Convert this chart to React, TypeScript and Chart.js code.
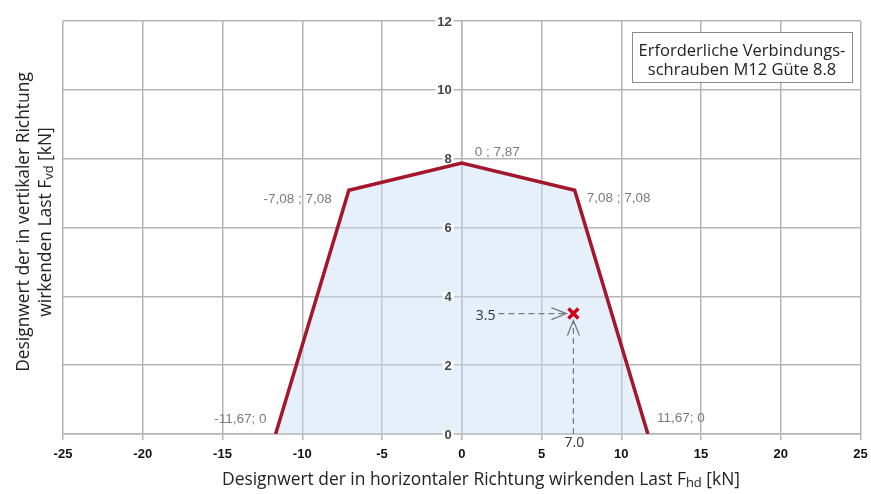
import React, { useEffect, useRef } from "react";
import { Chart, registerables } from "chart.js";

Chart.register(...registerables);

// ---- data ----
const limitX = [-11.67, -7.08, 0, 7.08, 11.67];
const limitY = [0, 7.08, 7.87, 7.08, 0];
const limitLabels = ["-11,67; 0", "-7,08 ; 7,08", "0 ; 7,87", "7,08 ; 7,08", "11,67; 0"];
const checkX = 7.0;
const checkY = 3.5;
const checkXLabel = "7.0";
const checkYLabel = "3.5";
const guideStartX = 2.3;
const xMin = -25;
const xMax = 25;
const xStep = 5;
const yMin = 0;
const yMax = 12;
const yStep = 2;
const boxLines = ["Erforderliche Verbindungs-", "schrauben M12 Güte 8.8"];
const xTitleParts: [string, boolean][] = [
  ["Designwert der in horizontaler Richtung wirkenden Last F", false],
  ["hd", true],
  [" [kN]", false],
];
const yTitleLine1: [string, boolean][] = [["Designwert der in vertikaler Richtung", false]];
const yTitleLine2: [string, boolean][] = [
  ["wirkenden Last F", false],
  ["vd", true],
  [" [kN]", false],
];

// ---- styles ----
const labelStyle: [number, number, CanvasTextAlign][] = [
  [-9, -15, "right"],
  [-17, 9, "right"],
  [13, -11, "left"],
  [12, 8, "left"],
  [9, -16, "left"],
];
const GRID = "#b5b5b5";
const TITLE_FONT = "'Open Sans', 'DejaVu Sans', sans-serif";
const TICK_FONT = "'Liberation Sans', Arial, sans-serif";

function drawParts(ctx: CanvasRenderingContext2D, parts: [string, boolean][], cx: number, cy: number, size: number) {
  const subSize = Math.round(size * 0.75);
  let total = 0;
  const widths = parts.map(([t, sub]) => {
    ctx.font = `${sub ? subSize : size}px ${TITLE_FONT}`;
    const w = ctx.measureText(t).width;
    total += w;
    return w;
  });
  let x = cx - total / 2;
  ctx.textAlign = "left";
  ctx.textBaseline = "middle";
  parts.forEach(([t, sub], i) => {
    ctx.font = `${sub ? subSize : size}px ${TITLE_FONT}`;
    ctx.fillText(t, x, sub ? cy + 3 : cy);
    x += widths[i];
  });
}

const overlayPlugin = {
  id: "overlay",
  afterDatasetsDraw(chart: any) {
    const ctx: CanvasRenderingContext2D = chart.ctx;
    const xs = chart.scales.x;
    const ys = chart.scales.y;
    ctx.save();

    // y tick labels beside the central axis, with white halo
    const ax = xs.getPixelForValue(0);
    ctx.font = `bold 13px ${TICK_FONT}`;
    ctx.textAlign = "right";
    ctx.textBaseline = "middle";
    ys.ticks.forEach((t: any) => {
      const py = ys.getPixelForValue(t.value);
      const label = String(t.value);
      const w = ctx.measureText(label).width;
      ctx.fillStyle = "rgba(255,255,255,0.9)";
      ctx.fillRect(ax - 10 - w - 2, py - 4, w + 4, 8);
      ctx.fillStyle = "#444";
      ctx.fillText(label, ax - 10, py + 1);
    });

    // point labels
    ctx.font = `13.5px ${TICK_FONT}`;
    ctx.fillStyle = "#7a7a7a";
    ctx.textBaseline = "middle";
    limitX.forEach((vx, i) => {
      const px = xs.getPixelForValue(vx);
      const py = ys.getPixelForValue(limitY[i]);
      const [dx, dy, al] = labelStyle[i];
      ctx.textAlign = al;
      ctx.fillText(limitLabels[i], px + dx, py + dy);
    });

    // guide lines
    const mx = xs.getPixelForValue(checkX);
    const my = ys.getPixelForValue(checkY);
    const sx = xs.getPixelForValue(guideStartX);
    const by = ys.getPixelForValue(0);
    ctx.strokeStyle = "#7a7a7a";
    ctx.lineWidth = 1.2;
    ctx.setLineDash([6, 4]);
    ctx.beginPath();
    ctx.moveTo(sx, my);
    ctx.lineTo(mx - 8, my);
    ctx.moveTo(mx, by);
    ctx.lineTo(mx, my + 8);
    ctx.stroke();
    ctx.setLineDash([]);
    // arrowheads (open)
    ctx.lineWidth = 1.3;
    ctx.beginPath();
    ctx.moveTo(mx - 22, my - 6);
    ctx.lineTo(mx - 7, my);
    ctx.lineTo(mx - 22, my + 6);
    ctx.moveTo(mx - 6, my + 22);
    ctx.lineTo(mx, my + 7);
    ctx.lineTo(mx + 6, my + 22);
    ctx.stroke();

    // guide value labels
    ctx.fillStyle = "#333";
    ctx.font = `14px ${TITLE_FONT}`;
    ctx.textAlign = "right";
    ctx.textBaseline = "middle";
    ctx.fillText(checkYLabel, sx - 3, my + 2);
    ctx.textAlign = "center";
    ctx.fillText(checkXLabel, mx + 1, by + 9);

    // info box
    const bx = 632, bY = 32, bw = 220, bh = 50;
    ctx.fillStyle = "#fff";
    ctx.fillRect(bx, bY, bw, bh);
    ctx.strokeStyle = "#8a8a8a";
    ctx.lineWidth = 1;
    ctx.strokeRect(bx + 0.5, bY + 0.5, bw, bh);
    ctx.fillStyle = "#222";
    ctx.font = `16.5px ${TITLE_FONT}`;
    ctx.textAlign = "center";
    ctx.textBaseline = "middle";
    ctx.fillText(boxLines[0], bx + bw / 2, bY + 19);
    ctx.fillText(boxLines[1], bx + bw / 2, bY + 38);

    // axis titles
    ctx.fillStyle = "#222";
    drawParts(ctx, xTitleParts, 481, 480, 17.4);
    ctx.save();
    ctx.translate(24, 222);
    ctx.rotate(-Math.PI / 2);
    drawParts(ctx, yTitleLine1, 0, 0, 17.4);
    ctx.restore();
    ctx.save();
    ctx.translate(46, 222);
    ctx.rotate(-Math.PI / 2);
    drawParts(ctx, yTitleLine2, 0, 0, 17.4);
    ctx.restore();

    ctx.restore();
  },
};

export default function App() {
  const ref = useRef<HTMLCanvasElement | null>(null);
  useEffect(() => {
    document.body.style.margin = "0";
    const canvas = ref.current!;
    const chart = new Chart(canvas, {
      type: "line",
      data: {
        datasets: [
          {
            type: "scatter",
            data: [{ x: checkX, y: checkY }],
            pointStyle: "crossRot",
            pointRadius: 7,
            pointBorderWidth: 3.5,
            borderColor: "#d0021b",
            backgroundColor: "#d0021b",
            showLine: false,
            order: 0,
          } as any,
          {
            type: "line",
            data: limitX.map((x, i) => ({ x, y: limitY[i] })),
            borderColor: "#a3162b",
            borderWidth: 3.5,
            backgroundColor: "rgba(200,221,245,0.45)",
            fill: "origin",
            pointRadius: 0,
            tension: 0,
            order: 1,
          } as any,
        ],
      },
      options: {
        responsive: false,
        animation: false,
        layout: { padding: { left: 63, right: 9, top: 21, bottom: 0 } },
        plugins: { legend: { display: false }, tooltip: { enabled: false } },
        scales: {
          x: {
            type: "linear",
            min: xMin,
            max: xMax,
            ticks: {
              stepSize: xStep,
              color: "#111",
              padding: 7,
              font: { family: TICK_FONT, size: 13, weight: "bold" },
            },
            grid: { color: GRID, lineWidth: 1.5, tickLength: 6 },
            border: { color: GRID, width: 1.5 },
            afterFit: (s: any) => {
              s.height = 60;
              s.paddingLeft = 0;
              s.paddingRight = 0;
            },
          },
          y: {
            type: "linear",
            position: { x: 0 } as any,
            min: yMin,
            max: yMax,
            ticks: { stepSize: yStep, display: false },
            grid: { color: GRID, lineWidth: 1.5, drawTicks: false },
            border: { color: GRID, width: 1.5 },
            afterFit: (s: any) => {
              s.paddingTop = 0;
              s.paddingBottom = 0;
            },
          },
        } as any,
      },
      plugins: [overlayPlugin],
    });
    return () => chart.destroy();
  }, []);
  return (
    <div style={{ position: "absolute", left: 0, top: 0, width: 871, height: 494, background: "#fff" }}>
      <canvas ref={ref} width={871} height={494} />
    </div>
  );
}
